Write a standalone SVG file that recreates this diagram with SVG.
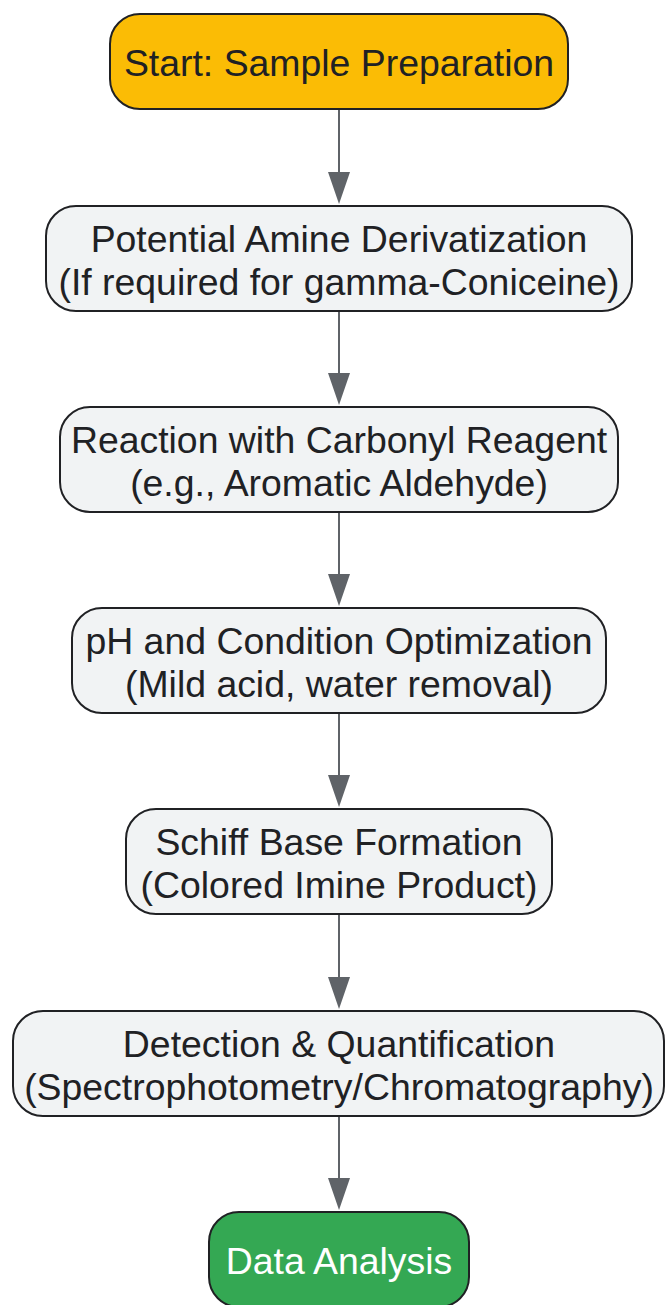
<svg xmlns="http://www.w3.org/2000/svg" width="666" height="1305" viewBox="0 0 666 1305">
<style>
.n rect{stroke:#202124;stroke-width:2}
.g rect{fill:#F1F3F4}
text{font-family:"Liberation Sans",Arial,sans-serif;font-size:37.4px;fill:#202124;text-anchor:middle}
.w text{fill:#FFFFFF}
.c line{stroke:#5F6368;stroke-width:2}
.c path{fill:#5F6368}
</style>
<rect width="666" height="1305" fill="#FFFFFF"/>
<g id="n1" class="n"><rect x="110" y="14" width="458" height="95" rx="30" fill="#FBBC05"/><text x="339" y="76">Start: Sample Preparation</text></g>
<g id="n2" class="n g"><rect x="46" y="206" width="586" height="105" rx="30"/><text x="339" y="252">Potential Amine Derivatization</text><text x="339" y="295">(If required for gamma-Coniceine)</text></g>
<g id="n3" class="n g"><rect x="60" y="407" width="558" height="105" rx="30"/><text x="339" y="453">Reaction with Carbonyl Reagent</text><text x="339" y="496">(e.g., Aromatic Aldehyde)</text></g>
<g id="n4" class="n g"><rect x="72" y="608" width="534" height="105" rx="30"/><text x="339" y="654">pH and Condition Optimization</text><text x="339" y="697">(Mild acid, water removal)</text></g>
<g id="n5" class="n g"><rect x="126" y="809" width="426" height="105" rx="30"/><text x="339" y="855">Schiff Base Formation</text><text x="339" y="898">(Colored Imine Product)</text></g>
<g id="n6" class="n g"><rect x="13" y="1011" width="651" height="105" rx="30"/><text x="339" y="1057">Detection &amp; Quantification</text><text x="339" y="1100">(Spectrophotometry/Chromatography)</text></g>
<g id="n7" class="n w"><rect x="209" y="1212" width="260" height="95" rx="30" fill="#34A853"/><text x="339" y="1274">Data Analysis</text></g>
<g id="connectors" class="c">
<line x1="339" y1="110" x2="339" y2="175"/><path d="M328,172 L350,172 L339,204 Z"/>
<line x1="339" y1="312" x2="339" y2="376"/><path d="M328,373 L350,373 L339,405 Z"/>
<line x1="339" y1="513" x2="339" y2="577"/><path d="M328,574 L350,574 L339,606 Z"/>
<line x1="339" y1="714" x2="339" y2="778"/><path d="M328,775 L350,775 L339,807 Z"/>
<line x1="339" y1="915" x2="339" y2="980"/><path d="M328,977 L350,977 L339,1009 Z"/>
<line x1="339" y1="1117" x2="339" y2="1181"/><path d="M328,1178 L350,1178 L339,1210 Z"/>
</g>
</svg>
